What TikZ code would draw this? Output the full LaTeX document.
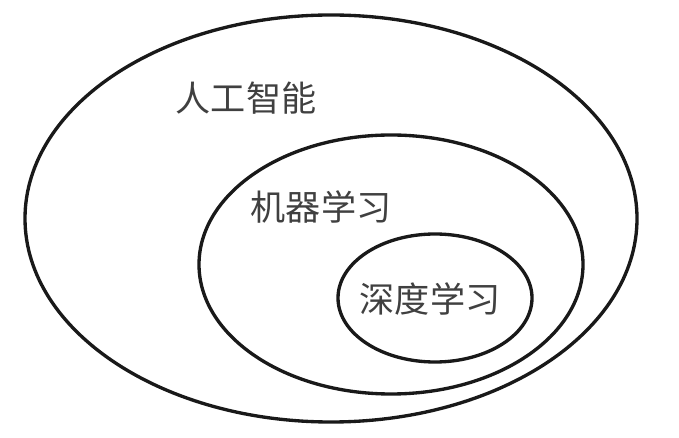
\documentclass[tikz,border=0pt]{standalone}
\usepackage{fontspec}
\usepackage{tikz}
\newfontfamily\cjk{Noto Sans CJK SC}
\tikzset{
    ringline/.style={draw=black!90,line width=1.9pt},
    fieldname/.style={align=center,inner sep=0pt,text=black!75,font=\cjk\fontsize{20}{24}\selectfont}
}
\begin{document}
\begin{tikzpicture}[x=0.02cm,y=-0.02cm]
\useasboundingbox (0,0) rectangle (679,438);

\draw[ringline] (331,218.5) ellipse [x radius=306,y radius=203.5];
\draw[ringline] (391,264.5) ellipse [x radius=192,y radius=129.5];
\draw[ringline] (435,298) ellipse [x radius=97,y radius=64];

\node[fieldname] (AI) at (246,98) {人工智能};
\node[fieldname] (ML) at (321,207) {机器学习};
\node[fieldname] (DL) at (430,299) {深度学习};

\end{tikzpicture}
\end{document}
